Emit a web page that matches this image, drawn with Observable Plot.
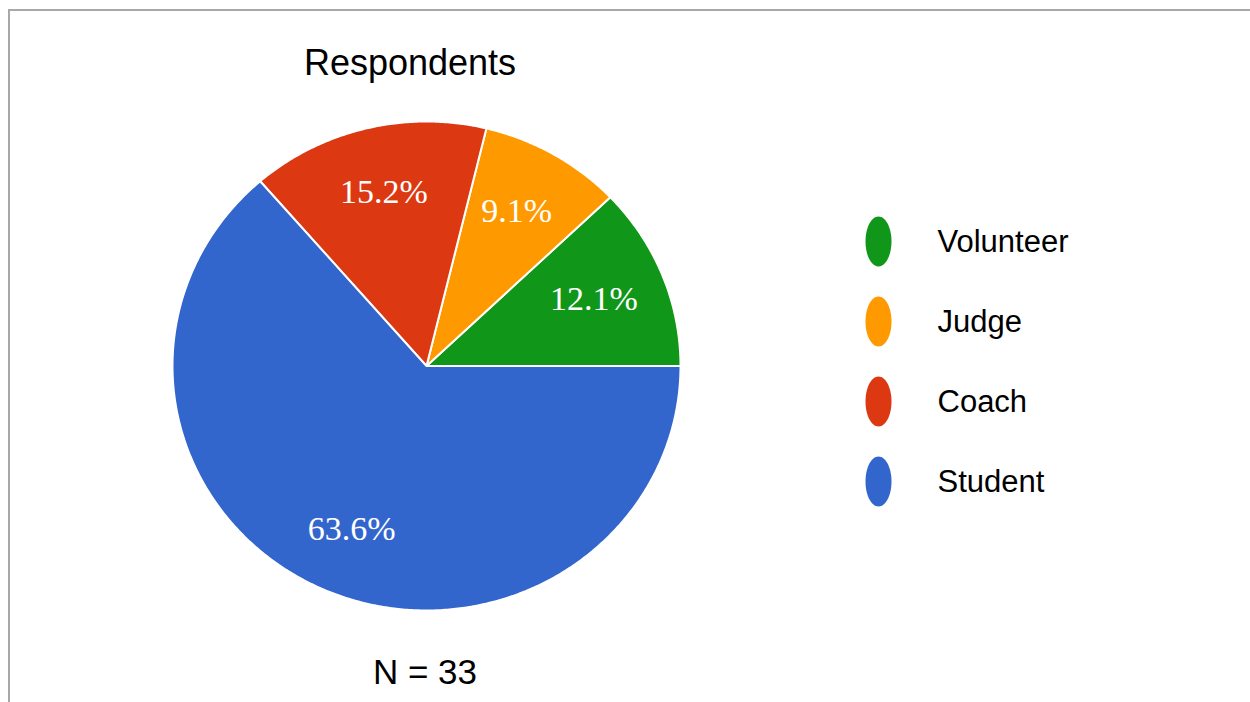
<!DOCTYPE html>
<html>
<head>
<meta charset="utf-8">
<script src="https://cdn.jsdelivr.net/npm/d3@7"></script>
<script src="https://cdn.jsdelivr.net/npm/@observablehq/plot@0.6"></script>
<style>
  html, body { margin: 0; padding: 0; background: #fff; overflow: hidden; }
  #wrap { position: relative; width: 1250px; height: 702px; background: #fff; font-family: "Liberation Sans", Arial, sans-serif; }
  #frame { position: absolute; left: 8px; top: 9px; right: -10px; bottom: -10px; border-top: 2px solid #a8a8a8; border-left: 2px solid #a8a8a8; }
  .abs { position: absolute; }
  #title { left: 0; width: 820px; top: 45px; text-align: center; font-size: 36px; line-height: 36px; color: #000; }
  #caption { left: 0; width: 850px; top: 654px; text-align: center; font-size: 35px; line-height: 35px; color: #000; }
  #pie { left: 0; top: 0; }
  #legend { left: 840px; top: 200px; }
</style>
</head>
<body>
<div id="wrap">
  <div id="frame"></div>
  <div id="pie" class="abs"></div>
  <div id="legend" class="abs"></div>
  <div id="title" class="abs"></div>
  <div id="caption" class="abs"></div>
</div>
<script>
// ---- data ----
const categories = ["Volunteer", "Judge", "Coach", "Student"];
const counts = [4, 3, 5, 21];
const colors = ["#109618", "#ff9900", "#dc3912", "#3366cc"];
const titleText = "Respondents";
const captionText = "N = 33";

// ---- derived slice geometry (counter-clockwise from 3 o'clock) ----
const total = d3.sum(counts);
const fmt = d3.format(".1%");
let cum = 0;
const slices = categories.map((name, i) => {
  const start = cum / total;
  cum += counts[i];
  const end = cum / total;
  return { name, start, end, mid: (start + end) / 2, label: fmt(counts[i] / total) };
});
const points = [];
for (const s of slices) {
  points.push({ name: s.name, x: 0, y: 0 });
  const n = Math.max(2, Math.ceil((s.end - s.start) * 720));
  for (let k = 0; k <= n; k++) {
    const a = 2 * Math.PI * (s.start + (s.end - s.start) * k / n);
    points.push({ name: s.name, x: Math.cos(a), y: Math.sin(a) });
  }
  points.push({ name: s.name, x: 0, y: 0 });
}
const labelR = 0.71;

const pie = Plot.plot({
  width: 1250,
  height: 702,
  margin: 0,
  style: { background: "transparent" },
  x: { domain: [-1, 1], range: [172, 680], axis: null },
  y: { domain: [-1, 1], range: [610, 121], axis: null },
  color: { domain: categories, range: colors },
  marks: [
    Plot.line(points, { x: "x", y: "y", z: "name", fill: "name", stroke: "white", strokeWidth: 2, strokeLinejoin: "round" }),
    Plot.text(slices, {
      x: d => labelR * Math.cos(2 * Math.PI * d.mid),
      y: d => labelR * 1.03 * Math.sin(2 * Math.PI * d.mid),
      text: "label",
      fill: "white",
      fontSize: 34,
      fontFamily: "'Liberation Serif', 'Times New Roman', serif",
      textAnchor: "middle"
    })
  ]
});
document.getElementById("pie").append(pie);

// ---- legend with elliptical markers ----
const ellipse = {
  draw(context, size) {
    const r = Math.sqrt(size / Math.PI);
    const rx = r * 0.52, ry = r, k = 0.5523;
    context.moveTo(rx, 0);
    context.bezierCurveTo(rx, ry * k, rx * k, ry, 0, ry);
    context.bezierCurveTo(-rx * k, ry, -rx, ry * k, -rx, 0);
    context.bezierCurveTo(-rx, -ry * k, -rx * k, -ry, 0, -ry);
    context.bezierCurveTo(rx * k, -ry, rx, -ry * k, rx, 0);
    context.closePath();
  }
};
const legend = Plot.plot({
  width: 260,
  height: 320,
  margin: 0,
  style: { background: "transparent" },
  y: { type: "point", domain: categories, range: [41, 281], padding: 0, axis: null },
  color: { domain: categories, range: colors },
  marks: [
    Plot.dot(categories, { y: d => d, fill: d => d, r: 25, symbol: ellipse, frameAnchor: "left", dx: 38 }),
    Plot.text(categories, {
      y: d => d, text: d => d, frameAnchor: "left", dx: 97, dy: 1,
      textAnchor: "start", fontSize: 31, fill: "#000",
      fontFamily: "'Liberation Sans', Arial, sans-serif"
    })
  ]
});
document.getElementById("legend").append(legend);

document.getElementById("title").textContent = titleText;
document.getElementById("caption").textContent = captionText;
</script>
</body>
</html>
